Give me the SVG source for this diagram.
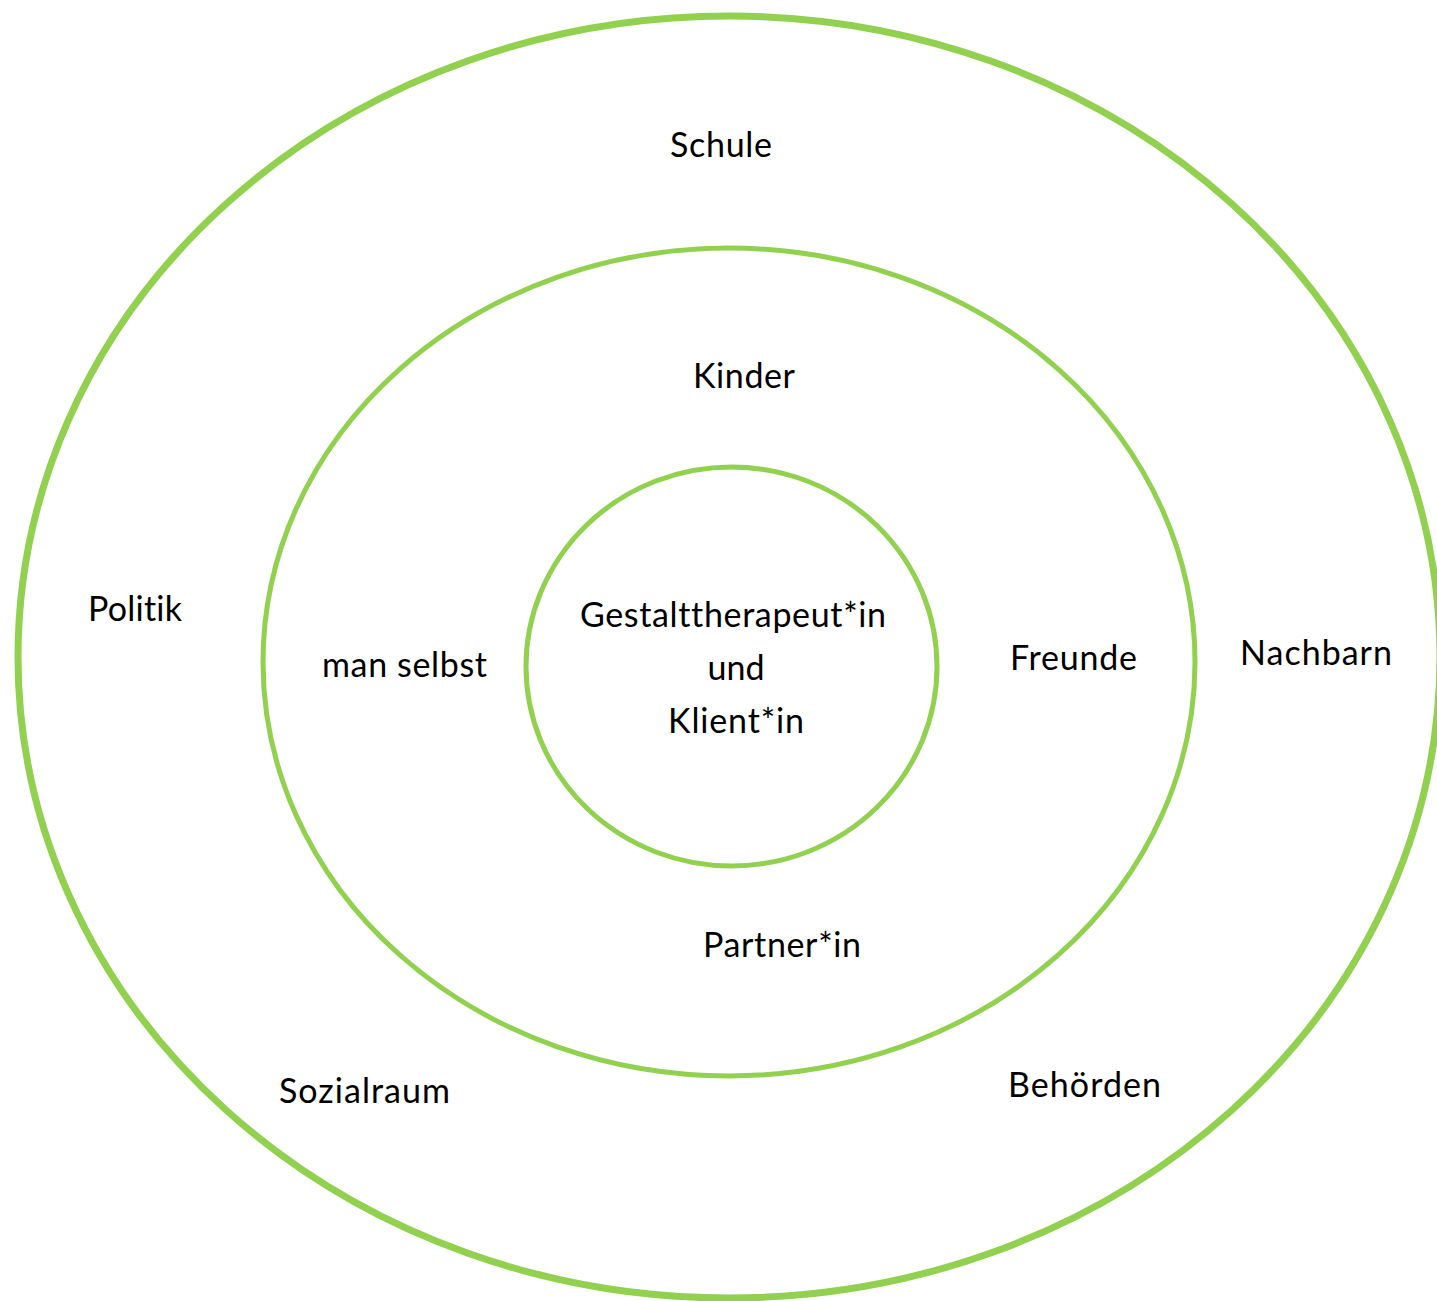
<svg xmlns="http://www.w3.org/2000/svg" width="1437" height="1301" viewBox="0 0 1437 1301">
<style>
.ring{fill:none;stroke:#92D050}
.lbl{font-family:Lato,"Open Sans","Liberation Sans",sans-serif;font-size:34px;fill:#000;text-anchor:middle;font-variant-ligatures:none;font-feature-settings:"liga" 0,"clig" 0}
</style>
<rect width="1437" height="1301" fill="#fff"/>
<g id="ring-outer"><ellipse class="ring" cx="729" cy="657" rx="711" ry="641" stroke-width="7"/></g>
<g id="ring-middle"><ellipse class="ring" cx="729" cy="662" rx="466" ry="414" stroke-width="5"/></g>
<g id="ring-inner"><ellipse class="ring" cx="731.5" cy="666.5" rx="205.5" ry="199.5" stroke-width="5"/></g>
<g id="connectors"></g>
<g id="center"><text class="lbl" x="733" y="627" textLength="306">Gestalttherapeut*in</text><text class="lbl" x="736" y="680">und</text><text class="lbl" x="736" y="733" textLength="136">Klient*in</text></g>
<g id="schule"><text class="lbl" x="721" y="157" textLength="102">Schule</text></g>
<g id="kinder"><text class="lbl" x="744" y="388" textLength="102">Kinder</text></g>
<g id="politik"><text class="lbl" x="135" y="621" textLength="94">Politik</text></g>
<g id="man-selbst"><text class="lbl" x="404.5" y="677" textLength="165">man selbst</text></g>
<g id="freunde"><text class="lbl" x="1073.5" y="670" textLength="127">Freunde</text></g>
<g id="nachbarn"><text class="lbl" x="1316" y="665" textLength="152">Nachbarn</text></g>
<g id="partner"><text class="lbl" x="782" y="957" textLength="158">Partner*in</text></g>
<g id="sozialraum"><text class="lbl" x="364.5" y="1103" textLength="171">Sozialraum</text></g>
<g id="behoerden"><text class="lbl" x="1084.5" y="1097" textLength="153">Behörden</text></g>
</svg>
